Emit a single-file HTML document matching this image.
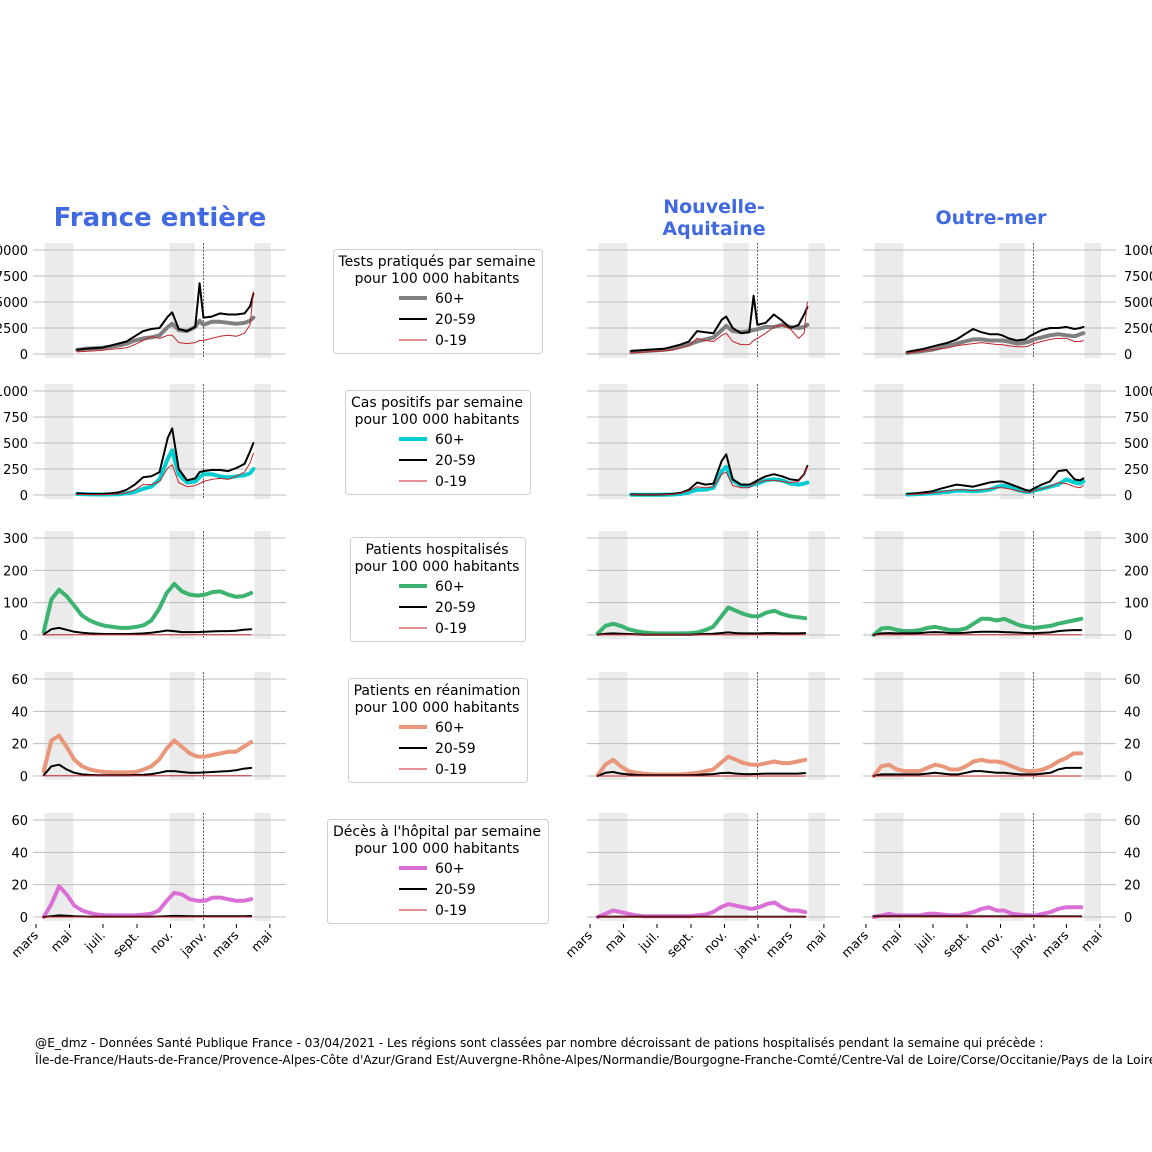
<!DOCTYPE html>
<html><head><meta charset="utf-8">
<style>
html,body{margin:0;padding:0;background:#fff;width:1152px;height:1152px;overflow:hidden}
svg{display:block;font-family:"DejaVu Sans","Liberation Sans",sans-serif}
</style></head>
<body>
<svg id="fig" width="1152" height="1152" viewBox="0 0 1152 1152">
<text x="160" y="226" text-anchor="middle" font-size="26" font-weight="bold" fill="#4169E1">France entière</text>
<text x="714" y="213" text-anchor="middle" font-size="19" font-weight="bold" fill="#4169E1">Nouvelle-</text>
<text x="714" y="235" text-anchor="middle" font-size="19" font-weight="bold" fill="#4169E1">Aquitaine</text>
<text x="991" y="224" text-anchor="middle" font-size="19" font-weight="bold" fill="#4169E1">Outre-mer</text>
<text x="35" y="1047" font-size="12.2" fill="#000">@E_dmz - Données Santé Publique France - 03/04/2021 - Les régions sont classées par nombre décroissant de pations hospitalisés pendant la semaine qui précède :</text>
<text x="35" y="1064" font-size="12.2" fill="#000">Île-de-France/Hauts-de-France/Provence-Alpes-Côte d'Azur/Grand Est/Auvergne-Rhône-Alpes/Normandie/Bourgogne-Franche-Comté/Centre-Val de Loire/Corse/Occitanie/Pays de la Loire/Bretagne</text>
</svg>
<script>
const TICK_LABELS=['mars','mai','juil.','sept.','nov.','janv.','mars','mai'];
const TICK_DAYS=[0,61,122,184,245,306,365,426];
const BANDS_START=[16,243,398];
const BANDS_END=[68,289,428];
const T_DAYS=[75,90,105,120,135,150,165,180,195,210,225,240,248,260,275,290,298,305,320,335,350,365,380,390,396];
const H_DAYS=[14,28,42,56,70,84,98,112,126,140,154,168,182,196,210,224,238,252,266,280,294,308,322,336,350,364,378,392];
const Y_MAX=[10000,1000,300,60,60];
const Y_TICKS_ROW1=[0,2500,5000,7500,10000];
const Y_TICKS_ROW2=[0,250,500,750,1000];
const Y_TICKS_ROW3=[0,100,200,300];
const Y_TICKS_ROW4=[0,20,40,60];
const Y_TICKS_ROW5=[0,20,40,60];

// France
const fr_tests_60=[400,500,550,600,700,800,1000,1300,1500,1600,1800,2600,2900,2300,2200,2600,3200,2800,3100,3100,3000,2900,3000,3200,3500];
const fr_tests_20=[400,500,550,600,800,1000,1200,1700,2200,2400,2500,3600,4000,2400,2200,2600,6800,3500,3600,3900,3800,3800,3900,4600,5800];
const fr_tests_0=[200,250,300,350,450,500,600,900,1300,1700,1500,1800,1800,1100,1000,1100,1300,1300,1500,1700,1800,1700,2000,2800,6000];
const fr_cases_60=[10,8,6,5,6,8,15,30,60,80,150,350,430,200,120,130,170,200,200,180,170,180,190,210,250];
const fr_cases_20=[15,12,10,10,15,25,50,100,170,180,220,550,640,250,140,160,220,230,240,240,230,260,300,420,500];
const fr_cases_0=[5,5,4,4,6,10,20,50,100,100,130,260,290,120,80,90,110,130,150,160,150,180,220,310,400];
const fr_hosp_60=[10,110,140,120,90,60,45,35,28,25,22,22,25,30,45,80,130,158,135,125,122,125,133,135,125,118,120,130];
const fr_hosp_20=[2,18,22,16,10,7,5,4,3,3,3,3,4,5,7,10,14,12,9,9,9,10,11,12,12,13,16,18];
const fr_hosp_0=[0,1,1,1,1,0.5,0.5,0.5,0.5,0.5,0.5,0.5,0.5,0.5,0.5,0.5,1,1,1,1,1,1,1,1,1,1,1,1];
const fr_rea_60=[3,22,25,18,10,6,4,3,2.5,2.3,2.2,2.2,2.5,4,6,10,17,22,18,14,12,12,13,14,15,15,18,21];
const fr_rea_20=[0.5,6,7,4,2,1,0.7,0.5,0.5,0.5,0.5,0.5,0.6,0.8,1.2,2,3,3,2.5,2,2,2.2,2.5,2.8,3,3.5,4.5,5];
const fr_rea_0=[0.1,0.1,0.1,0.1,0.1,0.1,0.1,0.1,0.1,0.1,0.1,0.1,0.1,0.1,0.1,0.1,0.1,0.1,0.1,0.1,0.1,0.1,0.1,0.1,0.1,0.1,0.1,0.1];
const fr_dc_60=[0,8,19,14,7,4,2.5,1.5,1,1,1,1,1,1.5,2,4,10,15,14,11,10,10,12,12,11,10,10,11];
const fr_dc_20=[0,0.5,1,0.8,0.5,0.3,0.2,0.1,0.1,0.1,0.1,0.1,0.1,0.1,0.2,0.3,0.5,0.7,0.6,0.5,0.5,0.5,0.5,0.5,0.5,0.5,0.5,0.6];
const fr_dc_0=[0,0,0,0,0,0,0,0,0,0,0,0,0,0,0,0,0,0,0,0,0,0,0,0,0,0,0,0];
// Nouvelle-Aquitaine
const na_tests_60=[200,250,300,350,400,500,700,900,1200,1400,1600,2300,2700,2200,2100,2200,2300,2400,2600,2600,2800,2600,2500,2600,2800];
const na_tests_20=[300,350,400,450,500,700,900,1200,2200,2100,2000,3300,3600,2500,2000,2100,5600,2800,3000,3800,3200,2500,2800,3800,4500];
const na_tests_0=[100,150,200,250,300,400,600,800,1500,1300,1200,1800,2000,1200,900,900,1300,1500,2000,2600,2800,2400,1500,2000,5000];
const na_cases_60=[2,2,2,2,3,5,10,25,50,50,70,230,270,140,90,90,100,110,140,150,140,110,100,110,120];
const na_cases_20=[5,4,4,4,6,10,20,50,120,100,110,330,390,150,100,100,120,140,180,200,180,150,140,200,280];
const na_cases_0=[3,3,2,2,4,8,15,40,80,70,80,200,220,90,70,70,100,120,140,140,130,120,130,200,270];
const na_hosp_60=[5,28,35,28,18,12,8,6,5,5,5,5,6,8,15,25,55,85,75,65,58,58,70,75,65,58,55,52];
const na_hosp_20=[1,4,5,4,3,2,1,1,1,1,1,1,1,2,3,4,6,8,6,5,5,5,6,6,5,5,5,6];
const na_hosp_0=[0.5,0.5,0.5,0.5,0.5,0.5,0.5,0.5,0.5,0.5,0.5,0.5,0.5,0.5,0.5,0.5,0.5,0.5,0.5,0.5,0.5,0.5,0.5,0.5,0.5,0.5,0.5,0.5];
const na_rea_60=[0.5,7,10,6,3,2,1.5,1,1,1,1,1,1.5,2,3,4,8,12,10,8,7,7,8,9,8,8,9,10];
const na_rea_20=[0,2,2.5,1.5,1,0.7,0.5,0.5,0.5,0.5,0.5,0.5,0.5,0.7,1,1.2,1.8,2,1.5,1.2,1.2,1.3,1.5,1.5,1.5,1.5,1.5,1.8];
const na_rea_0=[0,0,0,0,0,0,0,0,0,0,0,0,0,0,0,0,0,0,0,0,0,0,0,0,0,0,0,0];
const na_dc_60=[0,2,4,3,2,1,0.5,0.5,0.5,0.5,0.5,0.5,0.5,1,1.5,3,6,8,7,6,5,6,8,9,6,4,4,3];
const na_dc_20=[0.2,0.2,0.2,0.2,0.2,0.2,0.2,0.2,0.2,0.2,0.2,0.2,0.2,0.2,0.2,0.2,0.2,0.2,0.2,0.2,0.2,0.2,0.2,0.2,0.2,0.2,0.2,0.2];
const na_dc_0=[0,0,0,0,0,0,0,0,0,0,0,0,0,0,0,0,0,0,0,0,0,0,0,0,0,0,0,0];
// Outre-mer
const om_tests_60=[100,200,300,400,600,800,1000,1200,1400,1400,1300,1300,1300,1200,1000,1100,1200,1400,1600,1800,1900,1800,1700,1900,2000];
const om_tests_20=[200,350,500,700,900,1100,1400,1900,2400,2100,1900,1900,1800,1500,1300,1400,1700,1900,2300,2500,2500,2600,2400,2500,2600];
const om_tests_0=[100,200,300,400,500,600,800,900,1000,1100,1000,900,900,800,700,700,800,1000,1200,1400,1500,1500,1200,1200,1300];
const om_cases_60=[5,8,12,15,25,30,40,40,35,40,50,80,90,80,50,30,30,40,60,80,100,150,120,110,130];
const om_cases_20=[10,15,25,35,60,80,100,90,80,100,120,130,130,110,80,50,40,60,100,130,230,240,150,140,160];
const om_cases_0=[5,8,12,18,30,40,50,50,40,50,60,70,70,60,40,30,25,40,60,80,120,110,80,70,90];
const om_hosp_60=[0,20,22,16,12,12,15,22,25,20,15,15,20,35,50,50,45,50,40,30,25,22,25,28,35,40,45,50];
const om_hosp_20=[0,5,6,5,5,5,6,8,9,8,6,6,7,9,10,10,10,9,8,7,6,6,7,8,12,14,15,15];
const om_hosp_0=[0,1,1,1,1,1,1,1,1,1,1,1,1,1,1,1,1,1,1,1,1,1,1,1,1,1,1,1];
const om_rea_60=[0,6,7,4,3,3,3,5,7,6,4,4,6,9,10,9,9,8,6,4,3,3,4,6,9,11,14,14];
const om_rea_20=[0,1,1,1,1,1,1,1.5,2,1.5,1,1,2,3,3,2.5,2,2,1.5,1,1,1,1.5,2,4,5,5,5];
const om_rea_0=[0,0,0,0,0,0,0,0,0,0,0,0,0,0,0,0,0,0,0,0,0,0,0,0,0,0,0,0];
const om_dc_60=[0,1,2,1,1,1,1,2,2,1.5,1,1,2,3,5,6,4,4,2,1.5,1,1,2,3,5,6,6,6];
const om_dc_20=[0.4,0.4,0.4,0.4,0.4,0.4,0.4,0.4,0.4,0.4,0.4,0.4,0.4,0.4,0.4,0.4,0.4,0.4,0.4,0.4,0.4,0.4,0.4,0.4,0.4,0.4,0.4,0.4];
const om_dc_0=[0,0,0,0,0,0,0,0,0,0,0,0,0,0,0,0,0,0,0,0,0,0,0,0,0,0,0,0];

const LEGEND_TITLES=[["Tests pratiqués par semaine","pour 100 000 habitants"],["Cas positifs par semaine","pour 100 000 habitants"],["Patients hospitalisés","pour 100 000 habitants"],["Patients en réanimation","pour 100 000 habitants"],["Décès à l'hôpital par semaine","pour 100 000 habitants"]];
const SERIES_LABELS=['60+','20-59','0-19'];

const NS='http://www.w3.org/2000/svg';
const svg=document.getElementById('fig');
function mk(tag,attrs,parent){const e=document.createElementNS(NS,tag);for(const k in attrs)e.setAttribute(k,attrs[k]);(parent||svg).appendChild(e);return e;}

const COL_X0=[36,590,866];
const COL_NAMES=['france','nouvelle-aquitaine','outre-mer'];
const SCALE=0.549;
const ROW_Y0=[354,495,635,776,917];
const ROW_YT=[250,391,538,679,820];
const ROW_TICKS=[Y_TICKS_ROW1,Y_TICKS_ROW2,Y_TICKS_ROW3,Y_TICKS_ROW4,Y_TICKS_ROW5];
const ROW_KEYS=['tests','cases','hosp','rea','dc'];
const MAIN_COLORS=['#808080','#00CED1','#3CB371','#E9967A','#DA70D6'];
const DATA={fr:{tests:[fr_tests_60,fr_tests_20,fr_tests_0],cases:[fr_cases_60,fr_cases_20,fr_cases_0],hosp:[fr_hosp_60,fr_hosp_20,fr_hosp_0],rea:[fr_rea_60,fr_rea_20,fr_rea_0],dc:[fr_dc_60,fr_dc_20,fr_dc_0]},
na:{tests:[na_tests_60,na_tests_20,na_tests_0],cases:[na_cases_60,na_cases_20,na_cases_0],hosp:[na_hosp_60,na_hosp_20,na_hosp_0],rea:[na_rea_60,na_rea_20,na_rea_0],dc:[na_dc_60,na_dc_20,na_dc_0]},
om:{tests:[om_tests_60,om_tests_20,om_tests_0],cases:[om_cases_60,om_cases_20,om_cases_0],hosp:[om_hosp_60,om_hosp_20,om_hosp_0],rea:[om_rea_60,om_rea_20,om_rea_0],dc:[om_dc_60,om_dc_20,om_dc_0]}};
const COL_KEYS=['fr','na','om'];

for(let c=0;c<3;c++){
  const x0=COL_X0[c];
  const xs=d=>x0+d*SCALE;
  for(let r=0;r<5;r++){
    const y0=ROW_Y0[r],yt=ROW_YT[r];
    const ys=v=>y0-(v/Y_MAX[r])*(y0-yt);
    const g=mk('g',{});
    
    
    for(let b=0;b<BANDS_START.length;b++){
      const rc=mk('rect',{x:xs(BANDS_START[b]),y:yt-7,width:(BANDS_END[b]-BANDS_START[b])*SCALE,height:y0-yt+11,fill:'#ebebeb'},g);
      
      
    }
    for(const t of ROW_TICKS[r]){
      const ln=mk('line',{x1:x0-3,x2:x0+250,y1:ys(t),y2:ys(t),stroke:'#bdbdbd','stroke-width':1},g);
      
      
      if(c!==1){
        const tx=mk('text',{x:c===0?x0-8:x0+258,y:ys(t)+5,'font-size':13,'text-anchor':c===0?'end':'start',fill:'#000'},g);
        tx.textContent=String(t);
        
        
      }
    }
    const dl=mk('line',{x1:xs(305),x2:xs(305),y1:yt-7,y2:y0+4,stroke:'#333','stroke-width':0.8,'stroke-dasharray':'2,1.5'},g);
    
    
    const days=r<2?T_DAYS:H_DAYS;
    const ser=DATA[COL_KEYS[c]][ROW_KEYS[r]];
    const styles=[[MAIN_COLORS[r],4],['#000',2],['#c0262b',1]];
    for(let s=0;s<3;s++){
      const pts=ser[s].map((v,i)=>xs(days[i]).toFixed(1)+','+ys(v).toFixed(1)).join(' ');
      const pl=mk('polyline',{points:pts,fill:'none',stroke:styles[s][0],'stroke-width':styles[s][1],'stroke-linejoin':'round','stroke-linecap':'round'},g);
      
      
    }
    if(r===4){
      for(let k=0;k<TICK_DAYS.length;k++){
        const tx0=xs(TICK_DAYS[k]);
        mk('line',{x1:tx0,x2:tx0,y1:924,y2:928,stroke:'#000','stroke-width':1},g);
        const lb=mk('text',{x:tx0+3,y:936,'font-size':12.5,'text-anchor':'end',transform:'rotate(-45 '+(tx0+3)+' 936)',fill:'#000'},g);
        lb.textContent=TICK_LABELS[k];
        
        
      }
    }
  }
}
// legends
const LEG_BOX_X=[333,345,350,348,327];
const LEG_BOX_W=[209,185,175,179,221];
for(let r=0;r<5;r++){
  const top=ROW_YT[r]-1;
  const g=mk('g',{});
  
  
  mk('rect',{x:LEG_BOX_X[r]+0.5,y:top+0.5,width:LEG_BOX_W[r],height:104,rx:3,fill:'#fff',stroke:'#d0d0d0'},g);
  LEGEND_TITLES[r].forEach((t,i)=>{
    const tx=mk('text',{x:437,y:top+17+i*17,'font-size':14,'text-anchor':'middle',fill:'#000'},g);
    tx.textContent=t;
  });
  const styles=[[MAIN_COLORS[r],4],['#000',2],['#c0262b',1]];
  for(let s=0;s<3;s++){
    const yy=top+49+s*21;
    const e=mk('g',{},g);
    
    
    mk('line',{x1:399,x2:427,y1:yy,y2:yy,stroke:styles[s][0],'stroke-width':styles[s][1]},e);
    const tx=mk('text',{x:435,y:yy+5,'font-size':14,fill:'#000'},e);
    tx.textContent=SERIES_LABELS[s];
  }
}
</script>
</body></html>
